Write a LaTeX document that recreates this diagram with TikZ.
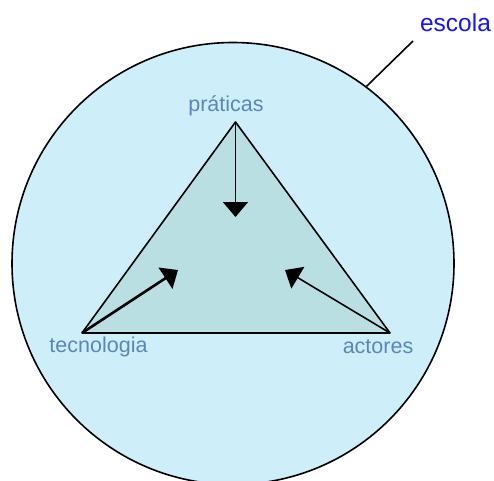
\documentclass[tikz,border=0pt]{standalone}
\usepackage{fontspec}
\setmainfont{Liberation Sans}
\usepackage{xcolor}
\usetikzlibrary{arrows.meta, positioning}

\definecolor{escolafill}{HTML}{CEEFFA}
\definecolor{trifill}{HTML}{B9DFE3}
\definecolor{labelblue}{HTML}{5A86B9}
\definecolor{escolablue}{HTML}{1414FF}

\begin{document}
\begin{tikzpicture}[
    x=1pt, y=1pt,
    vertexlabel/.style={font=\fontsize{21.5}{24}\selectfont, text=labelblue, inner sep=0pt},
    arrow/.style={-{Triangle[length=15pt, width=25pt]}, line width=1.6pt},
    edge/.style={draw, line width=1.6pt, line join=round}
]
\useasboundingbox (0,0) rectangle (494,480);
\clip (0,0) rectangle (494,480);

% School circle
\node[circle, draw, line width=1.6pt, fill=escolafill, minimum size=442pt, inner sep=0pt] (escola) at (233,216.5) {};

% Triangle corners
\coordinate (prat) at (235.5,358);
\coordinate (tecn) at (82,147);
\coordinate (actr) at (390,147);
\draw[edge, fill=trifill] (prat) -- (actr) -- (tecn) -- cycle;

% Arrow ends inside the triangle
\coordinate (pratend) at (235.5,263);
\coordinate (tecnend) at (178,210);
\coordinate (actrend) at (285,210);

% Arrows
\draw[arrow] (prat) -- (pratend);
\draw[arrow, line width=2.6pt] (tecn) -- (tecnend);
\draw[arrow] (actr) -- (actrend);

% Labels
\node[vertexlabel] (praticas) at (226,374) {práticas};
\node[vertexlabel] (tecnologia) at (98.5,133) {tecnologia};
\node[vertexlabel] (actores) at (378,133) {actores};

% School label
\node[font=\fontsize{24.5}{28}\selectfont, text=escolablue, inner sep=0pt] (escolalabel) at (455.5,457) {escola};
\coordinate (escolaline) at (413,439);
\draw[line width=1.6pt] (escola.53) -- (escolaline);

\end{tikzpicture}
\end{document}
